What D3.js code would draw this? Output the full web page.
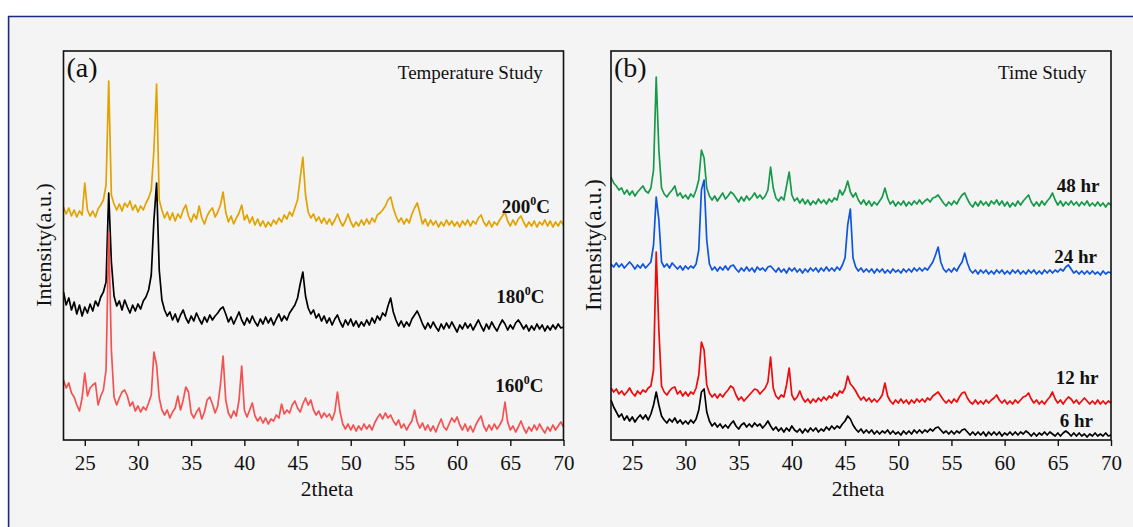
<!DOCTYPE html>
<html><head><meta charset="utf-8">
<script src="https://cdn.jsdelivr.net/npm/d3@7"></script>
<style>body{margin:0;background:#fff}svg{display:block}</style>
</head><body><svg id="c" width="1133" height="527"></svg>
<script>
// ---------- DATA ----------
const xTicks = [25, 30, 35, 40, 45, 50, 55, 60, 65, 70];
// 2theta sampling grid: 23.00 to 70.00 in 0.25 degree steps (189 points)
const twoTheta = d3.range(189).map(i => 23 + i * 0.25);

// Panel (a) Temperature study (stacked intensities, a.u.)
const temp200 = [
233,226,232,224, 230,223,229,225, 257,230,224,229, 223,231,235,240, 255,359,245,236,
230,236,229,237, 233,239,230,235, 228,234,230,237, 242,250,290,356, 240,230,222,228,
220,227,219,226, 222,230,235,224, 218,226,221,234, 222,216,224,229, 232,223,228,235,
248,228,218,224, 216,222,227,235, 220,225,217,223, 215,221,214,219, 213,218,214,220,
216,222,218,225, 221,228,224,232, 240,262,283,245, 228,222,226,219, 223,217,222,216,
221,215,220,226, 219,214,219,226, 218,213,218,214, 220,215,221,216, 222,218,225,227,
230,234,240,243, 232,224,218,222, 216,221,217,226, 232,237,227,216, 221,214,220,215,
219,213,218,214, 220,215,219,214, 218,213,219,215, 220,214,219,216, 222,225,218,214,
219,213,218,215, 220,224,228,219, 214,220,215,221, 224,218,213,218, 214,219,213,218,
215,220,214,219, 213,218,214,219, 215];
const temp180 = [
148,135,142,130, 138,126,135,124, 133,127,136,129, 139,134,143,148, 158,247,178,144,
134,139,130,140, 133,127,135,129, 136,131,139,143, 150,165,220,257, 170,140,130,124,
128,120,126,118, 125,130,122,117, 124,119,127,121, 116,123,118,125, 120,124,127,131,
133,126,118,123, 116,122,128,120, 115,122,117,124, 118,114,121,116, 123,117,122,115,
121,126,119,124, 120,127,131,135, 142,156,168,144, 132,126,130,122, 126,119,124,117,
122,115,121,125, 118,113,120,115, 121,114,119,113, 118,114,120,115, 122,117,124,120,
127,124,134,142, 128,120,114,119, 113,118,114,121, 125,129,123,116, 111,117,112,118,
113,109,116,111, 117,112,118,113, 108,115,111,117, 112,116,110,115, 120,114,109,116,
111,118,113,109, 115,120,116,110, 115,111,117,120, 116,111,115,109, 114,110,116,111,
115,109,114,110, 115,111,116,112, 113];
const temp160 = [
60,52,57,47, 43,35,29,42, 67,44,52,55, 57,35,44,50, 70,208,90,43,
35,42,48,50, 44,34,38,29, 34,28,33,30, 37,45,88,75, 42,30,25,30,
22,28,32,44, 30,40,53,48, 27,22,28,32, 21,28,40,43, 36,27,34,55,
84,40,27,22, 29,24,40,74, 30,23,30,37, 24,19,23,17, 22,16,21,19,
25,22,36,26, 30,27,35,39, 32,28,36,42, 35,40,30,25, 29,22,27,23,
26,20,28,48, 28,16,11,16, 10,15,9,14, 10,16,11,15, 10,17,22,26,
21,27,22,25, 19,15,20,12, 16,10,15,19, 30,18,12,17, 10,15,9,14,
8,15,21,13, 10,16,22,18, 23,15,10,16, 9,14,8,15, 20,24,14,9,
15,10,16,11, 15,20,38,18, 10,14,8,13, 19,12,7,13, 9,15,10,16,
11,7,13,9, 15,10,14,18, 13];

// Panel (b) Time study
const time48 = [
263,257,254,250, 252,246,250,245, 249,244,248,251, 254,249,247,252, 270,363,290,252,
246,243,247,250, 254,244,247,242, 245,241,246,243, 250,260,290,282, 252,244,240,244,
239,243,247,241, 244,248,246,242, 238,243,239,244, 240,243,247,242, 245,241,244,250,
273,252,242,239, 243,240,254,268, 245,239,242,237, 241,236,240,235, 239,236,241,237,
240,236,241,238, 242,240,250,245, 250,259,248,243, 247,240,236,240, 235,239,234,238,
235,239,243,252, 242,236,239,234, 238,235,239,234, 238,235,239,236, 240,236,239,241,
238,242,243,245, 241,237,234,238, 235,239,236,241, 245,247,241,236, 233,238,234,239,
235,238,234,239, 236,240,235,239, 234,238,233,237, 234,239,235,239, 242,245,238,234,
238,234,239,235, 239,242,247,240, 235,239,234,238, 235,239,235,238, 234,238,235,239,
234,237,234,238, 234,237,233,237, 235];
const time24 = [
176,173,177,173, 176,172,175,178, 175,171,175,172, 176,172,175,178, 195,243,220,178,
173,176,172,177, 174,171,174,170, 174,171,174,172, 176,190,250,260, 200,176,170,173,
169,173,170,174, 170,174,175,171, 168,172,169,173, 169,172,168,173, 170,172,169,173,
174,171,168,172, 168,171,167,172, 169,172,168,171, 167,171,168,172, 169,172,168,172,
169,173,169,172, 169,173,170,175, 182,215,231,182, 173,169,172,168, 171,168,171,167,
171,168,171,167, 170,167,171,168, 170,167,171,168, 171,168,172,169, 172,169,172,170,
174,178,185,193, 178,171,168,171, 168,172,169,174, 178,187,177,170, 167,170,166,170,
167,170,166,169, 166,170,167,170, 166,169,166,170, 167,170,166,169, 166,170,167,170,
166,169,166,170, 167,170,167,170, 168,171,169,173, 175,171,167,169, 166,169,166,169,
166,169,166,168, 165,169,166,168, 167];
const time12 = [
52,48,51,46, 49,45,48,52, 47,44,49,46, 50,48,52,54, 70,188,110,54,
48,45,49,52, 53,46,49,44, 48,44,48,46, 52,65,98,90, 55,47,43,46,
42,46,43,47, 50,54,52,45, 40,43,39,42, 45,48,51,50, 46,49,52,58,
83,52,44,41, 45,43,55,72, 45,40,43,49, 42,38,41,37, 41,38,42,39,
43,40,44,42, 47,44,49,47, 52,64,56,53, 49,44,40,43, 39,42,38,41,
38,41,45,57, 44,39,36,40, 37,41,37,40, 36,40,37,41, 38,41,38,42,
40,44,46,48, 44,40,37,40, 37,41,38,43, 47,48,42,38, 36,40,36,39,
36,40,37,40, 42,45,40,37, 40,36,39,36, 40,37,40,43, 44,47,41,37,
40,36,39,36, 40,43,48,41, 37,40,36,40, 43,41,37,40, 36,39,42,39,
36,39,36,40, 36,39,36,39, 37];
const time6 = [
40,33,28,23, 26,20,24,19, 23,18,22,25, 21,25,20,26, 35,48,35,24,
20,17,21,18, 22,17,20,16, 19,16,20,17, 21,30,48,51, 28,19,14,17,
13,16,12,15, 12,16,19,14, 11,15,17,13, 16,13,17,14, 16,12,15,19,
14,10,13,9, 12,8,12,9, 14,10,8,11, 7,11,8,12, 9,12,8,11,
9,13,10,14, 11,14,12,16, 19,24,21,15, 11,8,11,7, 10,7,10,6,
9,6,9,7, 10,6,9,6, 8,5,9,6, 9,6,10,7, 10,7,10,8,
11,9,12,13, 10,7,9,6, 9,6,9,7, 10,11,8,5, 8,5,8,5,
8,4,8,5, 8,5,8,4, 7,5,8,5, 8,5,8,6, 9,7,4,7,
4,7,5,8, 5,8,6,4, 7,4,7,9, 7,4,7,4, 7,4,6,3,
6,4,7,4, 6,4,7,4, 5];

const tempLabels = ["200", "180", "160"];
const timeLabels = ["48 hr", "24 hr", "12 hr", "6 hr"];

// ---------- DRAW ----------
const FONT = "'Liberation Serif','Times New Roman',Times,serif";
const svg = d3.select("#c");

// page background + outer frame
svg.append("rect").attr("x", 8).attr("y", 16).attr("width", 1125).attr("height", 511).attr("fill", "#f4f4f4");
svg.append("line").attr("x1", 8).attr("x2", 1133).attr("y1", 16.5).attr("y2", 16.5).attr("stroke", "#1b2a80").attr("stroke-width", 1.6);
svg.append("line").attr("x1", 8.6).attr("x2", 8.6).attr("y1", 16).attr("y2", 527).attr("stroke", "#1b2a80").attr("stroke-width", 1.6);

const yScale = d3.scaleLinear().domain([0, 389]).range([440, 51]);

const panels = [
  { x0: 63.5, x1: 563.5, letter: "(a)", title: "Temperature Study", titleX: 542.7,
    yLabX: 43.5, yLabSize: 22, xLabX: 327,
    series: [
      { values: temp200, color: "#E2A300", text: tempLabels[0], sup: true, lx: 550, ly: 213 },
      { values: temp180, color: "#000000", text: tempLabels[1], sup: true, lx: 544.5, ly: 303 },
      { values: temp160, color: "#F45252", text: tempLabels[2], sup: true, lx: 543.5, ly: 391.5 }
    ] },
  { x0: 611, x1: 1111, letter: "(b)", title: "Time Study", titleX: 1086.5,
    yLabX: 593, yLabSize: 23.5, xLabX: 858,
    series: [
      { values: time48, color: "#17994A", text: timeLabels[0], sup: false, lx: 1099.5, ly: 191.5 },
      { values: time24, color: "#0F55DC", text: timeLabels[1], sup: false, lx: 1097, ly: 263 },
      { values: time12, color: "#EE0A0A", text: timeLabels[2], sup: false, lx: 1098.5, ly: 383.5 },
      { values: time6, color: "#000000", text: timeLabels[3], sup: false, lx: 1093, ly: 426.5 }
    ] }
];

panels.forEach(p => {
  const x = d3.scaleLinear().domain([23, 70]).range([p.x0, p.x1]);
  const g = svg.append("g");

  const line = d3.line().x((d, i) => x(twoTheta[i])).y(d => yScale(d));
  p.series.forEach(s => {
    g.append("path").datum(s.values).attr("d", line)
      .attr("fill", "none").attr("stroke", s.color).attr("stroke-width", 1.7)
      .attr("stroke-linejoin", "round");
  });

  // frame
  g.append("rect").attr("x", p.x0).attr("y", 51).attr("width", p.x1 - p.x0).attr("height", 389)
    .attr("fill", "none").attr("stroke", "#111").attr("stroke-width", 1.6);

  // x axis
  const ax = g.append("g").attr("transform", "translate(0,440)")
    .call(d3.axisBottom(x).tickValues(xTicks).tickSize(6).tickFormat(d3.format("d")));
  ax.select(".domain").remove();
  ax.selectAll(".tick line").attr("stroke", "#111").attr("stroke-width", 1.4);
  ax.selectAll(".tick text").attr("y", 29.5).attr("dy", null)
    .attr("font-family", FONT).attr("font-size", 21).attr("fill", "#111");

  g.append("text").attr("x", p.xLabX).attr("y", 495.5).attr("text-anchor", "middle")
    .attr("font-family", FONT).attr("font-size", 21.5).attr("fill", "#111").text("2theta");

  g.append("text").attr("transform", `translate(${p.yLabX},${245}) rotate(-90)`)
    .attr("text-anchor", "middle").attr("dominant-baseline", "central")
    .attr("font-family", FONT).attr("font-size", p.yLabSize).attr("fill", "#111").text("Intensity(a.u.)");

  g.append("text").attr("x", p.x0 + 3).attr("y", 77).attr("font-family", FONT)
    .attr("font-size", 28).attr("fill", "#111").text(p.letter);
  g.append("text").attr("x", p.titleX).attr("y", 79.3).attr("text-anchor", "end")
    .attr("font-family", FONT).attr("font-size", 19).attr("fill", "#111").text(p.title);

  p.series.forEach(s => {
    const t = g.append("text").attr("x", s.lx).attr("y", s.ly).attr("text-anchor", "end")
      .attr("font-family", FONT).attr("font-size", 19).attr("font-weight", "bold").attr("fill", "#111");
    if (s.sup) {
      t.append("tspan").text(s.text);
      t.append("tspan").attr("dy", -8).attr("font-size", 12).text("0");
      t.append("tspan").attr("dy", 8).text("C");
    } else {
      t.text(s.text);
    }
  });
});
</script></body></html>
